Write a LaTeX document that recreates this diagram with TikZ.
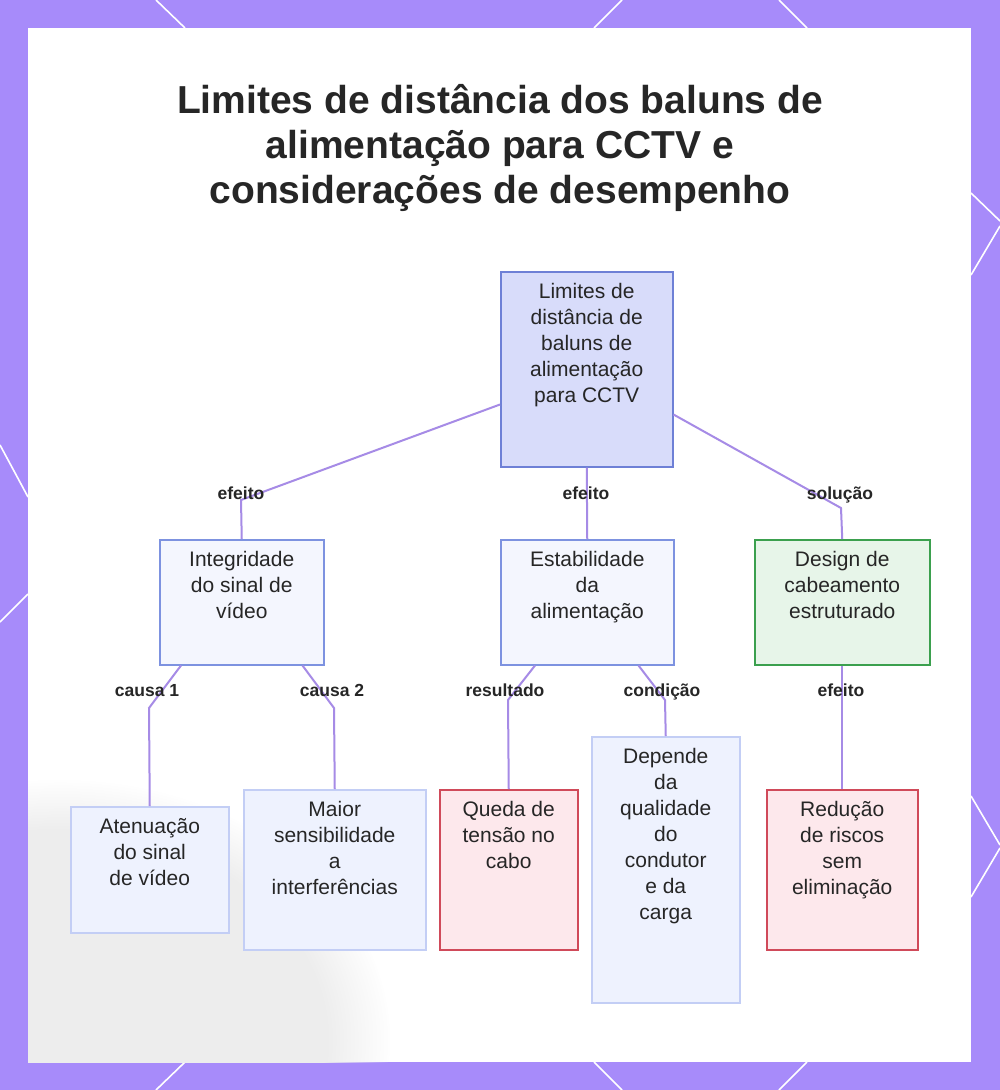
\documentclass[tikz,border=0pt]{standalone}
\usepackage{fontspec}
\setmainfont{Liberation Sans}
\usetikzlibrary{calc,fadings}
\definecolor{bgpurple}{HTML}{A78BFA}
\definecolor{conn}{HTML}{A68BE6}
\definecolor{txt}{HTML}{262626}
\definecolor{rootfill}{HTML}{D8DCFA}
\definecolor{rootdraw}{HTML}{6E80D6}
\definecolor{midfill}{HTML}{F4F6FE}
\definecolor{middraw}{HTML}{7D92E0}
\definecolor{leaffill}{HTML}{EEF2FE}
\definecolor{leafdraw}{HTML}{C3CEF5}
\definecolor{grnfill}{HTML}{E7F5E9}
\definecolor{grndraw}{HTML}{3BA04E}
\definecolor{redfill}{HTML}{FDE8EC}
\definecolor{reddraw}{HTML}{D04A5A}
\newcommand{\bt}[3]{\parbox[c][#2pt][t]{#1pt}{\centering\fontsize{21}{26}\selectfont\rule{0pt}{27pt}#3}}
\begin{document}
\begin{tikzpicture}[x=1pt,y=-1pt,
  bx/.style={rectangle, inner sep=0pt, line width=1.5pt, anchor=north west, text=txt},
  rootbox/.style={bx, fill=rootfill, draw=rootdraw},
  midbox/.style={bx, fill=midfill, draw=middraw},
  leafbox/.style={bx, fill=leaffill, draw=leafdraw},
  grnbox/.style={bx, fill=grnfill, draw=grndraw},
  redbox/.style={bx, fill=redfill, draw=reddraw},
  lbl/.style={font=\fontsize{17.5}{20}\selectfont\bfseries, text=txt, inner sep=0pt, anchor=base},
  cn/.style={draw=conn, line width=2pt},
  hex/.style={draw=white, line width=1.6pt}]
\useasboundingbox (0,0) rectangle (1000,1090);
% border
\fill[bgpurple] (0,0) rectangle (1000,1090);
\draw[hex] (156,0) -- (185,28);
\draw[hex] (622,0) -- (594,28);
\draw[hex] (779,0) -- (807,28);
\draw[hex] (156,1090) -- (185,1062);
\draw[hex] (622,1090) -- (594,1062);
\draw[hex] (779,1090) -- (807,1062);
\draw[hex] (0,445) -- (28,497);
\draw[hex] (28,594) -- (0,622);
\draw[hex] (971,193) -- (1000,221);
\draw[hex] (1000,226) -- (971,275);
\draw[hex] (971,796) -- (1000,845);
\draw[hex] (1000,848) -- (971,897);
% panel
\fill[white] (28,28) rectangle (971,1062);
\begin{scope}
\clip (28,28) rectangle (971,1062);
\fill[black!7, path fading=circle with fuzzy edge 20 percent] (60,1040) ellipse (330 and 260);
\end{scope}
% title
\node[font=\fontsize{39}{45}\selectfont\bfseries, text=txt, align=center, inner sep=0pt, anchor=north] (title) at (500,84)
 {Limites de distância dos baluns de\\alimentação para CCTV e\\considerações de desempenho};
% boxes
\node[rootbox] (root) at (500,271) {\bt{172}{195}{Limites de\\distância de\\baluns de\\alimentação\\para CCTV}};
\node[midbox] (integ) at (159,539) {\bt{164}{125}{Integridade\\do sinal de\\vídeo}};
\node[midbox] (estab) at (500,539) {\bt{173}{125}{Estabilidade\\da\\alimentação}};
\node[grnbox] (design) at (754,539) {\bt{175}{125}{Design de\\cabeamento\\estruturado}};
\node[leafbox] (aten) at (70,806) {\bt{158}{126}{Atenuação\\do sinal\\de vídeo}};
\node[leafbox] (maior) at (243,789) {\bt{182}{160}{Maior\\sensibilidade\\a\\interferências}};
\node[redbox] (queda) at (439,789) {\bt{138}{160}{Queda de\\tensão no\\cabo}};
\node[leafbox] (dep) at (591,736) {\bt{148}{266}{Depende\\da\\qualidade\\do\\condutor\\e da\\carga}};
\node[redbox] (red) at (766,789) {\bt{151}{160}{Redução\\de riscos\\sem\\eliminação}};
% bend points
\coordinate (b1) at (241,500);
\coordinate (b2) at (841,508);
\coordinate (b3) at (149,708);
\coordinate (b4) at (334,708);
\coordinate (b5) at (508,700);
\coordinate (b6) at (665,700);
% connectors
\draw[cn] ($(root.south west)+(0,-63)$) -- (b1) -- (integ.north);
\draw[cn] (root.south) -- (estab.north);
\draw[cn] ($(root.south east)+(0,-53)$) -- (b2) -- (design.north);
\draw[cn] ($(integ.south west)+(22,0)$) -- (b3) -- (aten.north);
\draw[cn] ($(integ.south east)+(-22,0)$) -- (b4) -- (maior.north);
\draw[cn] ($(estab.south west)+(35,0)$) -- (b5) -- (queda.north);
\draw[cn] ($(estab.south east)+(-36,0)$) -- (b6) -- (dep.north);
\draw[cn] (design.south) -- (red.north);
% labels
\node[lbl] (l1) at (241,499) {efeito};
\node[lbl] (l2) at (586,499) {efeito};
\node[lbl] (l3) at (840,499) {solução};
\node[lbl] (l4) at (147,696) {causa 1};
\node[lbl] (l5) at (332,696) {causa 2};
\node[lbl] (l6) at (505,696) {resultado};
\node[lbl] (l7) at (662,696) {condição};
\node[lbl] (l8) at (841,696) {efeito};
\end{tikzpicture}
\end{document}
